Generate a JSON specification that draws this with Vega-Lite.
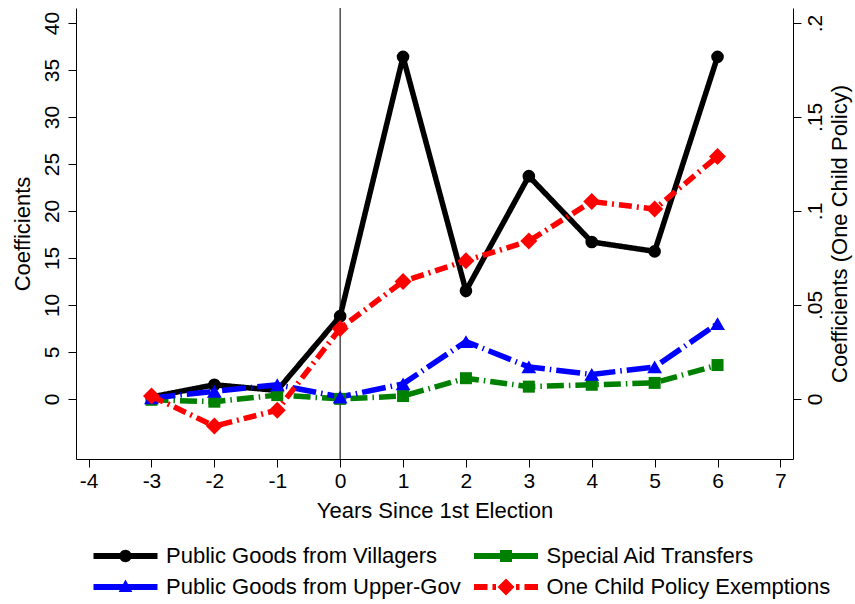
{
  "$schema": "https://vega.github.io/schema/vega-lite/v6.json",
  "width": 717,
  "height": 451,
  "autosize": {"type": "none"},
  "padding": {"left": 76, "top": 8, "right": 62, "bottom": 145},
  "background": "white",
  "config": {
    "view": {"stroke": null},
    "font": "Liberation Sans",
    "axis": {
      "grid": false, "domainColor": "black", "tickColor": "black", "labelColor": "black", "titleColor": "black",
      "labelFont": "Liberation Sans", "titleFont": "Liberation Sans", "labelFontSize": 21, "titleFontSize": 22,
      "titleFontWeight": "normal", "tickSize": 8, "domainWidth": 1, "tickWidth": 1, "labelFlush": false, "labelOverlap": false
    }
  },
  "datasets": {
    "all": [
      {"x": -3, "series": "Public Goods from Villagers", "v": 0.2},
      {"x": -2, "series": "Public Goods from Villagers", "v": 1.5},
      {"x": -1, "series": "Public Goods from Villagers", "v": 0.9},
      {"x": 0, "series": "Public Goods from Villagers", "v": 8.8},
      {"x": 1, "series": "Public Goods from Villagers", "v": 36.4},
      {"x": 2, "series": "Public Goods from Villagers", "v": 11.5},
      {"x": 3, "series": "Public Goods from Villagers", "v": 23.7},
      {"x": 4, "series": "Public Goods from Villagers", "v": 16.7},
      {"x": 5, "series": "Public Goods from Villagers", "v": 15.7},
      {"x": 6, "series": "Public Goods from Villagers", "v": 36.4},
      {"x": -3, "series": "Special Aid Transfers", "v": -0.1},
      {"x": -2, "series": "Special Aid Transfers", "v": -0.3},
      {"x": -1, "series": "Special Aid Transfers", "v": 0.4},
      {"x": 0, "series": "Special Aid Transfers", "v": 0.0},
      {"x": 1, "series": "Special Aid Transfers", "v": 0.3},
      {"x": 2, "series": "Special Aid Transfers", "v": 2.2},
      {"x": 3, "series": "Special Aid Transfers", "v": 1.3},
      {"x": 4, "series": "Special Aid Transfers", "v": 1.5},
      {"x": 5, "series": "Special Aid Transfers", "v": 1.7},
      {"x": 6, "series": "Special Aid Transfers", "v": 3.6},
      {"x": -3, "series": "Public Goods from Upper-Gov", "v": 0.1},
      {"x": -2, "series": "Public Goods from Upper-Gov", "v": 0.8},
      {"x": -1, "series": "Public Goods from Upper-Gov", "v": 1.5},
      {"x": 0, "series": "Public Goods from Upper-Gov", "v": 0.2},
      {"x": 1, "series": "Public Goods from Upper-Gov", "v": 1.6},
      {"x": 2, "series": "Public Goods from Upper-Gov", "v": 6.1},
      {"x": 3, "series": "Public Goods from Upper-Gov", "v": 3.4},
      {"x": 4, "series": "Public Goods from Upper-Gov", "v": 2.6},
      {"x": 5, "series": "Public Goods from Upper-Gov", "v": 3.4},
      {"x": 6, "series": "Public Goods from Upper-Gov", "v": 8.0},
      {"x": -3, "series": "One Child Policy Exemptions", "v": 0.0015},
      {"x": -2, "series": "One Child Policy Exemptions", "v": -0.0145},
      {"x": -1, "series": "One Child Policy Exemptions", "v": -0.006},
      {"x": 0, "series": "One Child Policy Exemptions", "v": 0.0375},
      {"x": 1, "series": "One Child Policy Exemptions", "v": 0.0625},
      {"x": 2, "series": "One Child Policy Exemptions", "v": 0.0735},
      {"x": 3, "series": "One Child Policy Exemptions", "v": 0.084},
      {"x": 4, "series": "One Child Policy Exemptions", "v": 0.105},
      {"x": 5, "series": "One Child Policy Exemptions", "v": 0.101},
      {"x": 6, "series": "One Child Policy Exemptions", "v": 0.129}
    ]
  },
  "layer": [
    {
      "layer": [
        {
          "data": {"values": [{"x": 0}]},
          "mark": {"type": "rule", "color": "#222", "strokeWidth": 1.2},
          "encoding": {
            "x": {"field": "x", "type": "quantitative", "scale": {"domain": [-4.2, 7.2], "nice": false, "zero": false},
                  "axis": {"values": [-4, -3, -2, -1, 0, 1, 2, 3, 4, 5, 6, 7], "labelExpr": "'' + datum.value", "title": "Years Since 1st Election", "labelPadding": 3, "titleX": 358.5, "titleY": 58, "titleBaseline": "alphabetic", "titleAlign": "center"}}
          }
        },
        {
          "data": {"name": "all"},
          "transform": [{"filter": "datum.series != 'One Child Policy Exemptions'"}],
          "mark": {"type": "line", "strokeWidth": 5.5, "strokeCap": "butt"},
          "encoding": {
            "x": {"field": "x", "type": "quantitative", "scale": {"domain": [-4.2, 7.2], "nice": false, "zero": false},
                  "axis": {"values": [-4, -3, -2, -1, 0, 1, 2, 3, 4, 5, 6, 7], "labelExpr": "'' + datum.value", "title": "Years Since 1st Election", "labelPadding": 3, "titleX": 358.5, "titleY": 58, "titleBaseline": "alphabetic", "titleAlign": "center"}},
            "y": {"field": "v", "type": "quantitative", "scale": {"domain": [-6.4, 41.6], "nice": false, "zero": false},
                  "axis": {"orient": "left", "values": [0, 5, 10, 15, 20, 25, 30, 35, 40], "title": "Coefficients", "labelAngle": 270, "labelAlign": "center", "labelBaseline": "bottom", "labelPadding": 6,
                           "titleAngle": 270, "titleX": -47, "titleY": 225.5, "titleAlign": "center", "titleBaseline": "alphabetic"}},
            "stroke": {"field": "series", "type": "nominal", "legend": null,
                      "scale": {"domain": ["Public Goods from Villagers", "Special Aid Transfers", "Public Goods from Upper-Gov"], "range": ["#000000", "#008000", "#0000ff"]}},
            "strokeDash": {"field": "series", "type": "nominal", "legend": null,
                           "scale": {"domain": ["Public Goods from Villagers", "Special Aid Transfers", "Public Goods from Upper-Gov"], "range": [[1, 0], [17, 5, 1.5, 5], [24, 5, 1.5, 5]]}},
            "order": {"field": "x", "type": "quantitative"}
          }
        },
        {
          "data": {"name": "all"},
          "transform": [{"filter": "datum.series == 'Public Goods from Villagers'"}],
          "mark": {"type": "point", "shape": "circle", "filled": true, "color": "#000000", "opacity": 1, "size": 160},
          "encoding": {
            "x": {"field": "x", "type": "quantitative"},
            "y": {"field": "v", "type": "quantitative"}
          }
        },
        {
          "data": {"name": "all"},
          "transform": [{"filter": "datum.series == 'Special Aid Transfers'"}],
          "mark": {"type": "point", "shape": "square", "filled": true, "color": "#008000", "opacity": 1, "size": 144},
          "encoding": {
            "x": {"field": "x", "type": "quantitative"},
            "y": {"field": "v", "type": "quantitative"}
          }
        },
        {
          "data": {"name": "all"},
          "transform": [{"filter": "datum.series == 'Public Goods from Upper-Gov'"}],
          "mark": {"type": "point", "shape": "triangle-up", "filled": true, "color": "#0000ff", "opacity": 1, "size": 220},
          "encoding": {
            "x": {"field": "x", "type": "quantitative"},
            "y": {"field": "v", "type": "quantitative"}
          }
        },
        {
          "data": {"name": "all"},
          "mark": {"type": "point", "filled": true, "opacity": 0, "size": 400},
          "encoding": {
            "x": {"field": "x", "type": "quantitative"},
            "color": {"field": "series", "type": "nominal",
                      "scale": {"domain": ["Public Goods from Villagers", "Special Aid Transfers", "Public Goods from Upper-Gov", "One Child Policy Exemptions"], "range": ["#000000", "#008000", "#0000ff", "#ff0000"]},
                      "legend": {"orient": "none", "legendX": 38.5, "legendY": 537, "columns": 2, "title": null, "direction": "horizontal",
                                 "labelFontSize": 22, "labelFont": "Liberation Sans", "labelColor": "black", "labelLimit": 500,
                                 "symbolSize": 400, "labelOffset": 29.5, "columnPadding": 12.5, "rowPadding": 9, "symbolStrokeWidth": 0, "padding": 0,
                                 "encode": {"symbols": {"update": {"opacity": {"value": 1}, "fillOpacity": {"value": 1}}}}}},
            "shape": {"field": "series", "type": "nominal",
                      "scale": {"domain": ["Public Goods from Villagers", "Special Aid Transfers", "Public Goods from Upper-Gov", "One Child Policy Exemptions"],
                                "range": [
                                  "M-3.2,-0.3H3.2V0.3H-3.2Z M-0.62,0A0.62,0.62,0,1,1,0.62,0A0.62,0.62,0,1,1,-0.62,0Z",
                                  "M-3.2,-0.3H3.2V0.3H-3.2Z M-0.6,-0.6H0.6V0.6H-0.6Z",
                                  "M-3.2,-0.3H3.2V0.3H-3.2Z M0,-0.75L0.68,0.5L-0.68,0.5Z",
                                  "M-3.2,-0.3H-1.85V0.3H-3.2Z M-1.35,-0.3H-1.0V0.3H-1.35Z M1.0,-0.3H1.35V0.3H1.0Z M1.85,-0.3H3.2V0.3H1.85Z M0,-0.85L0.85,0L0,0.85L-0.85,0Z"
                                ]},
                      "legend": {"orient": "none", "legendX": 38.5, "legendY": 537, "columns": 2, "title": null, "direction": "horizontal",
                                 "labelFontSize": 22, "labelFont": "Liberation Sans", "labelColor": "black", "labelLimit": 500,
                                 "symbolSize": 400, "labelOffset": 29.5, "columnPadding": 12.5, "rowPadding": 9, "symbolStrokeWidth": 0, "padding": 0,
                                 "encode": {"symbols": {"update": {"opacity": {"value": 1}, "fillOpacity": {"value": 1}}}}}}
          }
        }
      ]
    },
    {
      "data": {"name": "all"},
      "transform": [{"filter": "datum.series == 'One Child Policy Exemptions'"}],
      "layer": [
        {
          "mark": {"type": "line", "strokeWidth": 5.5, "strokeCap": "butt", "color": "#ff0000", "strokeDash": [13, 5, 2, 5]},
          "encoding": {
            "x": {"field": "x", "type": "quantitative", "scale": {"domain": [-4.2, 7.2], "nice": false, "zero": false},
                  "axis": {"values": [-4, -3, -2, -1, 0, 1, 2, 3, 4, 5, 6, 7], "labelExpr": "'' + datum.value", "title": "Years Since 1st Election", "labelPadding": 3, "titleX": 358.5, "titleY": 58, "titleBaseline": "alphabetic", "titleAlign": "center"}},
            "y": {"field": "v", "type": "quantitative", "scale": {"domain": [-0.032, 0.208], "nice": false, "zero": false},
                  "axis": {"orient": "right", "values": [0, 0.05, 0.1, 0.15, 0.2], "title": "Coefficients (One Child Policy)",
                           "labelExpr": "datum.value == 0 ? '0' : replace(format(datum.value, '~g'), '0.', '.')",
                           "labelAngle": 270, "labelAlign": "center", "labelBaseline": "top", "labelPadding": 3,
                           "titleAngle": 270, "titleX": 53, "titleY": 225.5, "titleAlign": "center", "titleBaseline": "alphabetic"}},
            "order": {"field": "x", "type": "quantitative"}
          }
        },
        {
          "mark": {"type": "point", "shape": "diamond", "filled": true, "color": "#ff0000", "opacity": 1, "size": 289},
          "encoding": {
            "x": {"field": "x", "type": "quantitative"},
            "y": {"field": "v", "type": "quantitative"}
          }
        }
      ]
    }
  ],
  "resolve": {"scale": {"y": "independent"}}
}
